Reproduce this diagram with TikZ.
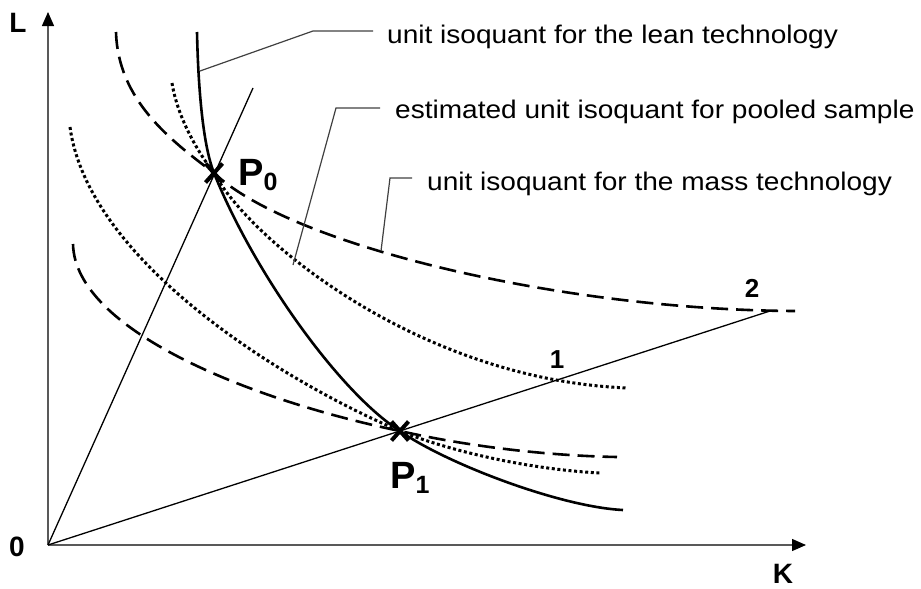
\documentclass[tikz,border=0pt]{standalone}
\usepackage{fontspec}
\usepackage{graphicx}
\setmainfont{Liberation Sans}
\usetikzlibrary{arrows.meta,shapes.misc}
\newcommand\widetext[1]{\scalebox{1.1}[1]{#1}}
\tikzset{
  axis/.style    ={draw=black!65,line width=1.3pt,-{Triangle[length=14pt,width=12pt,color=black]}},
  ray/.style     ={black,line width=1.3pt},
  lean/.style    ={black,line width=2.6pt},
  mass/.style    ={black,line width=2.6pt,dash pattern=on 17pt off 8pt},
  pooled/.style  ={black,line width=3pt,dash pattern=on 3pt off 2.6pt},
  leader/.style  ={black!75,line width=1.2pt},
  note/.style    ={inner sep=0pt,anchor=base west,font=\fontsize{25.5}{30}\selectfont},
  tag/.style     ={inner sep=0pt,anchor=base,font=\fontsize{28}{32}\selectfont\bfseries},
  xmark/.style   ={cross out,draw,line width=4pt,minimum width=13pt,minimum height=15pt,inner sep=0pt},
}
\begin{document}
\begin{tikzpicture}[x=1pt,y=-1pt]
  \useasboundingbox (0,0) rectangle (921,589);
  % axes
  \coordinate (O) at (48,545);
  \coordinate (Ltip) at (48,12);
  \coordinate (Ktip) at (806,545);
  \draw[axis] (O) -- (Ltip);
  \draw[axis] (O) -- (Ktip);
  \node[tag] (Llab) at (18,32) {L};
  \node[tag] (Klab) at (783,583) {K};
  \node[tag] (Olab) at (17,556) {0};
  % rays
  \coordinate (R0) at (253,88);
  \coordinate (R1) at (770,311);
  \draw[ray] (O) -- (R0);
  \draw[ray] (O) -- (R1);
  % points
  \node[xmark] (P0) at (214,173) {};
  \node[xmark] (P1) at (400,431) {};
  % isoquants
  \draw[lean] (197,32) .. controls (198,80) and (202,143) .. (P0.center)
    .. controls (254,273) and (340,393) .. (P1.center)
    .. controls (445,463) and (560,507) .. (623,510);
  \draw[mass] (116,32) .. controls (118,100) and (170,140) .. (P0.center)
    .. controls (290,245) and (560,310) .. (795,311);
  \draw[mass] (73,244) .. controls (75,330) and (250,400) .. (P1.center)
    .. controls (480,449) and (560,456) .. (617,457);
  \draw[pooled] (172,83) .. controls (178,120) and (200,155) .. (P0.center)
    .. controls (250,240) and (420,380) .. (628,388);
  \draw[pooled] (70,127) .. controls (88,260) and (280,380) .. (P1.center)
    .. controls (460,455) and (540,470) .. (600,473);
  % labels
  \node[tag,anchor=base west,font=\fontsize{38}{40}\selectfont\bfseries] (P0lab) at (238,185) {P\raisebox{-5pt}{\fontsize{25}{25}\selectfont 0}};
  \node[tag,anchor=base west,font=\fontsize{38}{40}\selectfont\bfseries] (P1lab) at (390,488) {P\raisebox{-5pt}{\fontsize{25}{25}\selectfont 1}};
  \node[tag,font=\fontsize{26}{30}\selectfont\bfseries] (one) at (557,368) {1};
  \node[tag,font=\fontsize{26}{30}\selectfont\bfseries] (two) at (752,297) {2};
  % leaders and notes
  \node[note] (leanN) at (387,43) {\widetext{unit isoquant for the lean technology}};
  \node[note] (poolN) at (395,118) {\widetext{estimated unit isoquant for pooled sample}};
  \node[note] (massN) at (427,190) {\widetext{unit isoquant for the mass technology}};
  \coordinate (leanA) at (200,71);
  \coordinate (leanB) at (313,31);
  \coordinate (leanC) at (373,31);
  \coordinate (poolA) at (293,265);
  \coordinate (poolB) at (336,108);
  \coordinate (poolC) at (380,108);
  \coordinate (massA) at (381,251);
  \coordinate (massB) at (390,178);
  \coordinate (massC) at (412,178);
  \draw[leader] (leanA) -- (leanB) -- (leanC);
  \draw[leader] (poolA) -- (poolB) -- (poolC);
  \draw[leader] (massA) -- (massB) -- (massC);
\end{tikzpicture}
\end{document}
